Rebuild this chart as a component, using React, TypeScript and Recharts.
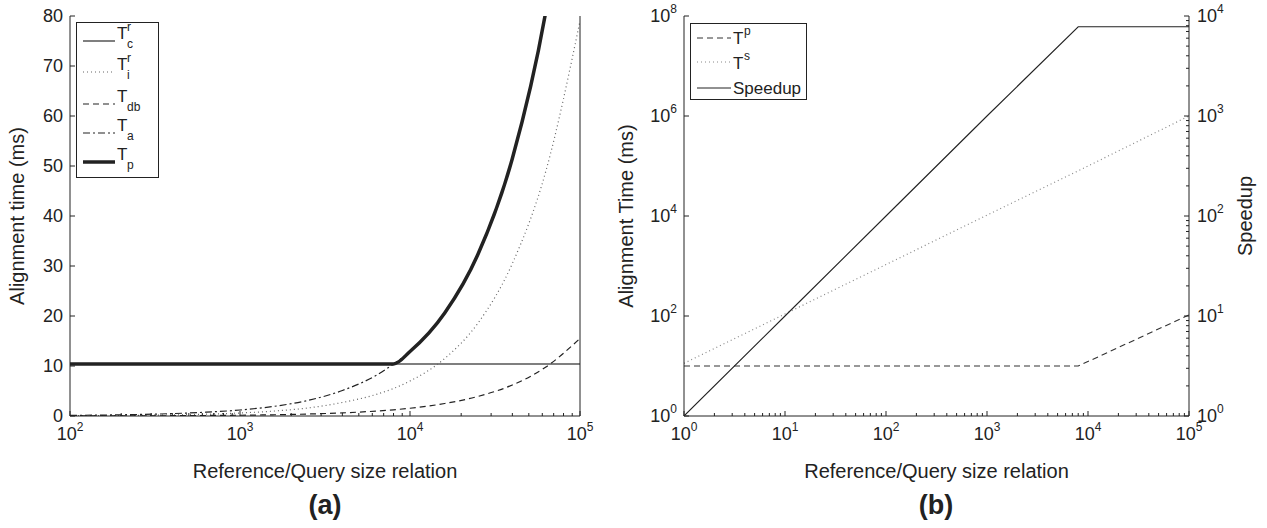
import React from "react";
import { LineChart, Line, XAxis, YAxis, Legend } from "recharts";

const FONT = '"Liberation Sans", Arial, Helvetica, sans-serif';
const INK = "#222";

// ---- panel (a): alignment time vs reference/query size (linear y) ----
const sizeA = [100, 160, 250, 400, 630, 1000, 1600, 2500, 4000, 6300, 8000, 10000, 16000, 25000, 40000, 63000, 100000];
const tcr = [10.4, 10.4, 10.4, 10.4, 10.4, 10.4, 10.4, 10.4, 10.4, 10.4, 10.4, 10.4, 10.4, 10.4, 10.4, 10.4, 10.4];
const tir = [0.05, 0.08, 0.13, 0.22, 0.36, 0.6, 1.0, 1.6, 2.7, 4.3, 5.5, 7.0, 11.5, 18.5, 30.5, 49, 79];
const tdb = [0.015, 0.025, 0.04, 0.06, 0.1, 0.155, 0.25, 0.39, 0.62, 0.98, 1.24, 1.55, 2.5, 3.9, 6.2, 9.8, 15.5];
const ta = [0.12, 0.19, 0.3, 0.48, 0.76, 1.2, 1.95, 3.1, 5.1, 8.1, 10.4, 12.9, 20.6, 32.2, 51.5, 81, 129];
const tp = [10.4, 10.4, 10.4, 10.4, 10.4, 10.4, 10.4, 10.4, 10.4, 10.4, 10.4, 12.9, 20.6, 32.2, 51.5, 81, 129];

const timeTicksA = [0, 10, 20, 30, 40, 50, 60, 70, 80];
const sizeTicksA = [
  100, 200, 300, 400, 500, 600, 700, 800, 900,
  1000, 2000, 3000, 4000, 5000, 6000, 7000, 8000, 9000,
  10000, 20000, 30000, 40000, 50000, 60000, 70000, 80000, 90000, 100000,
];

// ---- panel (b): log-log, speedup on the right axis ----
const sizeB = [1, 10, 100, 1000, 8000, 100000];
const tpB = [10, 10, 10, 10, 10, 105];
const tsB = [11.3, 110, 1070, 10400, 80000, 1000000];
const speedupB = [1, 10, 100, 1000, 7800, 7800];

const timeTicksB = [1, 100, 10000, 1000000, 100000000];
const speedupTicksB = [
  1, 2, 3, 4, 5, 6, 7, 8, 9,
  10, 20, 30, 40, 50, 60, 70, 80, 90,
  100, 200, 300, 400, 500, 600, 700, 800, 900,
  1000, 2000, 3000, 4000, 5000, 6000, 7000, 8000, 9000, 10000,
];
const sizeTicksB = [
  1, 2, 3, 4, 5, 6, 7, 8, 9,
  10, 20, 30, 40, 50, 60, 70, 80, 90,
  100, 200, 300, 400, 500, 600, 700, 800, 900,
  1000, 2000, 3000, 4000, 5000, 6000, 7000, 8000, 9000,
  10000, 20000, 30000, 40000, 50000, 60000, 70000, 80000, 90000, 100000,
];

const dataA = sizeA.map((size, i) => ({ size, tcr: tcr[i], tir: tir[i], tdb: tdb[i], ta: ta[i], tp: tp[i] }));
const dataB = sizeB.map((size, i) => ({ size, tp: tpB[i], ts: tsB[i], speedup: speedupB[i] }));

const isDecade = (v: number) => Math.abs(Math.log10(v) - Math.round(Math.log10(v))) < 1e-9;

const Pow = ({ x, y, v, anchor }: { x: number; y: number; v: number; anchor: string }) => (
  <text x={x} y={y} textAnchor={anchor} fontFamily={FONT} fontSize={18} fill={INK}>
    <tspan>10</tspan>
    <tspan dy={-9} fontSize={12}>{Math.round(Math.log10(v))}</tspan>
  </text>
);

// tick renderers: ticks point inwards like the matlab box
const bottomLogTick = (props: any) => {
  const { x, y, payload } = props;
  const major = isDecade(payload.value);
  return (
    <g>
      <line x1={x} x2={x} y1={y} y2={y - (major ? 5 : 3)} stroke={INK} />
      {major && <Pow x={x} y={y + 24} v={payload.value} anchor="middle" />}
    </g>
  );
};

const topLogTick = (props: any) => {
  const { x, y, payload } = props;
  const major = isDecade(payload.value);
  return <line x1={x} x2={x} y1={y} y2={y + (major ? 5 : 3)} stroke={INK} />;
};

const leftLinTick = (props: any) => {
  const { x, y, payload } = props;
  return (
    <g>
      <line x1={x} x2={x + 5} y1={y} y2={y} stroke={INK} />
      <text x={x - 7} y={y + 6} textAnchor="end" fontFamily={FONT} fontSize={18} fill={INK}>
        {payload.value}
      </text>
    </g>
  );
};

const rightPlainTick = (props: any) => {
  const { x, y } = props;
  return <line x1={x} x2={x - 5} y1={y} y2={y} stroke={INK} />;
};

const leftLogTick = (props: any) => {
  const { x, y, payload } = props;
  return (
    <g>
      <line x1={x} x2={x + 5} y1={y} y2={y} stroke={INK} />
      <Pow x={x - 7} y={y + 6} v={payload.value} anchor="end" />
    </g>
  );
};

const rightLogTick = (props: any) => {
  const { x, y, payload } = props;
  const major = isDecade(payload.value);
  return (
    <g>
      <line x1={x} x2={x - (major ? 5 : 3)} y1={y} y2={y} stroke={INK} />
      {major && <Pow x={x + 8} y={y + 6} v={payload.value} anchor="start" />}
    </g>
  );
};

const txt = { fontFamily: FONT, fill: INK };

function LegendA() {
  const rows = [
    { y: 19, dash: undefined, w: 1.5, c: "#555", sub: "c", sup: "r" },
    { y: 50, dash: "1 3", w: 1.2, c: "#666", sub: "i", sup: "r" },
    { y: 82, dash: "6 4", w: 1.2, c: INK, sub: "db" },
    { y: 111, dash: "7 3 2 3", w: 1.2, c: INK, sub: "a" },
    { y: 140, dash: undefined, w: 3.5, c: INK, sub: "p" },
  ];
  return (
    <svg width={83} height={156} style={{ display: "block", overflow: "visible" }}>
      <rect x={0.5} y={0.5} width={82} height={155} fill="#fff" stroke={INK} />
      {rows.map((r, i) => (
        <g key={i}>
          <line x1={7} x2={39} y1={r.y} y2={r.y} stroke={r.c} strokeWidth={r.w} strokeDasharray={r.dash} />
          <text x={41} y={r.y - 2} fontSize={17} {...txt}>T</text>
          {r.sup && <text x={51} y={r.y - 10} fontSize={12} {...txt}>{r.sup}</text>}
          <text x={51} y={r.y + 7} fontSize={12} {...txt}>{r.sub}</text>
        </g>
      ))}
    </svg>
  );
}

function LegendB() {
  return (
    <svg width={117} height={77} style={{ display: "block" }}>
      <rect x={0.5} y={0.5} width={116} height={76} fill="#fff" stroke={INK} />
      <line x1={7} x2={41} y1={15} y2={15} stroke="#333" strokeDasharray="6 4" />
      <text x={43} y={21} fontSize={17} {...txt}>T</text>
      <text x={54} y={12} fontSize={12} {...txt}>p</text>
      <line x1={7} x2={41} y1={39} y2={39} stroke="#888" strokeDasharray="1 3" />
      <text x={43} y={46} fontSize={17} {...txt}>T</text>
      <text x={54} y={37} fontSize={12} {...txt}>s</text>
      <line x1={7} x2={41} y1={65} y2={65} stroke={INK} />
      <text x={43} y={71} fontSize={17} {...txt}>Speedup</text>
    </svg>
  );
}

const axisStroke = { stroke: INK, strokeWidth: 1 };

export default function App() {
  return (
    <div style={{ position: "absolute", left: 0, top: 0, width: 1267, height: 528, background: "#fff", fontFamily: FONT }}>
      <div style={{ position: "absolute", left: 0, top: 0 }}>
        <LineChart width={600} height={500} data={dataA} margin={{ top: 16, right: 19, bottom: 22, left: 10 }}>
          <XAxis
            xAxisId="b"
            dataKey="size"
            type="number"
            scale="log"
            domain={[100, 100000]}
            ticks={sizeTicksA}
            interval={0}
            tick={bottomLogTick}
            tickLine={false}
            tickSize={0}
            tickMargin={0}
            axisLine={axisStroke}
            height={62}
            label={{ value: "Reference/Query size relation", position: "insideBottom", offset: 0, fontSize: 20, fill: INK, fontFamily: FONT }}
          />
          <XAxis
            xAxisId="t"
            orientation="top"
            dataKey="size"
            type="number"
            scale="log"
            domain={[100, 100000]}
            ticks={sizeTicksA}
            interval={0}
            tick={topLogTick}
            tickLine={false}
            tickSize={0}
            tickMargin={0}
            axisLine={axisStroke}
            height={0}
          />
          <YAxis
            yAxisId="l"
            type="number"
            domain={[0, 80]}
            allowDataOverflow
            ticks={timeTicksA}
            interval={0}
            tick={leftLinTick}
            tickLine={false}
            tickSize={0}
            tickMargin={0}
            axisLine={axisStroke}
            width={60}
            label={{ value: "Alignment time (ms)", angle: -90, position: "insideLeft", offset: 7, fontSize: 20, fill: INK, fontFamily: FONT, style: { textAnchor: "middle" } }}
          />
          <YAxis
            yAxisId="r"
            orientation="right"
            type="number"
            domain={[0, 80]}
            ticks={timeTicksA}
            interval={0}
            tick={rightPlainTick}
            tickLine={false}
            tickSize={0}
            tickMargin={0}
            axisLine={axisStroke}
            width={1}
          />
          <Legend
            layout="vertical"
            align="center"
            verticalAlign="middle"
            wrapperStyle={{ left: 76, top: 22, width: 83, height: 156 }}
            content={() => <LegendA />}
          />
          <Line xAxisId="b" yAxisId="l" dataKey="tcr" type="monotone" stroke="#555" strokeWidth={1.5} dot={false} activeDot={false} isAnimationActive={false} />
          <Line xAxisId="b" yAxisId="l" dataKey="tir" type="monotone" stroke="#666" strokeWidth={1.2} strokeDasharray="1 3" dot={false} activeDot={false} isAnimationActive={false} />
          <Line xAxisId="b" yAxisId="l" dataKey="tdb" type="monotone" stroke={INK} strokeWidth={1.2} strokeDasharray="6 4" dot={false} activeDot={false} isAnimationActive={false} />
          <Line xAxisId="b" yAxisId="l" dataKey="ta" type="monotone" stroke={INK} strokeWidth={1.2} strokeDasharray="7 3 2 3" dot={false} activeDot={false} isAnimationActive={false} />
          <Line xAxisId="b" yAxisId="l" dataKey="tp" type="monotone" stroke={INK} strokeWidth={3.5} dot={false} activeDot={false} isAnimationActive={false} />
        </LineChart>
      </div>

      <div style={{ position: "absolute", left: 600, top: 0 }}>
        <LineChart width={660} height={500} data={dataB} margin={{ top: 16, right: 1, bottom: 22, left: 20 }}>
          <XAxis
            xAxisId="b"
            dataKey="size"
            type="number"
            scale="log"
            domain={[1, 100000]}
            ticks={sizeTicksB}
            interval={0}
            tick={bottomLogTick}
            tickLine={false}
            tickSize={0}
            tickMargin={0}
            axisLine={axisStroke}
            height={62}
            label={{ value: "Reference/Query size relation", position: "insideBottom", offset: 0, fontSize: 20, fill: INK, fontFamily: FONT }}
          />
          <XAxis
            xAxisId="t"
            orientation="top"
            dataKey="size"
            type="number"
            scale="log"
            domain={[1, 100000]}
            ticks={sizeTicksB}
            interval={0}
            tick={topLogTick}
            tickLine={false}
            tickSize={0}
            tickMargin={0}
            axisLine={axisStroke}
            height={0}
          />
          <YAxis
            yAxisId="l"
            type="number"
            scale="log"
            domain={[1, 100000000]}
            allowDataOverflow
            ticks={timeTicksB}
            interval={0}
            tick={leftLogTick}
            tickLine={false}
            tickSize={0}
            tickMargin={0}
            axisLine={axisStroke}
            width={64}
            label={{ value: "Alignment Time (ms)", angle: -90, position: "insideLeft", offset: 6, fontSize: 20, fill: INK, fontFamily: FONT, style: { textAnchor: "middle" } }}
          />
          <YAxis
            yAxisId="sp"
            orientation="right"
            type="number"
            scale="log"
            domain={[1, 10000]}
            allowDataOverflow
            ticks={speedupTicksB}
            interval={0}
            tick={rightLogTick}
            tickLine={false}
            tickSize={0}
            tickMargin={0}
            axisLine={axisStroke}
            width={70}
            label={{ value: "Speedup", angle: -90, position: "insideRight", offset: 14, fontSize: 20, fill: INK, fontFamily: FONT, style: { textAnchor: "middle" } }}
          />
          <Legend
            layout="vertical"
            align="center"
            verticalAlign="middle"
            wrapperStyle={{ left: 90, top: 23, width: 117, height: 77 }}
            content={() => <LegendB />}
          />
          <Line xAxisId="b" yAxisId="l" dataKey="tp" type="linear" stroke="#333" strokeWidth={1.1} strokeDasharray="6 4" dot={false} activeDot={false} isAnimationActive={false} />
          <Line xAxisId="b" yAxisId="l" dataKey="ts" type="linear" stroke="#888" strokeWidth={1.2} strokeDasharray="1 3" dot={false} activeDot={false} isAnimationActive={false} />
          <Line xAxisId="b" yAxisId="sp" dataKey="speedup" type="linear" stroke={INK} strokeWidth={1.1} dot={false} activeDot={false} isAnimationActive={false} />
        </LineChart>
      </div>

      <div style={{ position: "absolute", left: 285, top: 490, width: 80, textAlign: "center", fontWeight: "bold", fontSize: 27, color: INK }}>(a)</div>
      <div style={{ position: "absolute", left: 896, top: 490, width: 80, textAlign: "center", fontWeight: "bold", fontSize: 27, color: INK }}>(b)</div>
    </div>
  );
}
